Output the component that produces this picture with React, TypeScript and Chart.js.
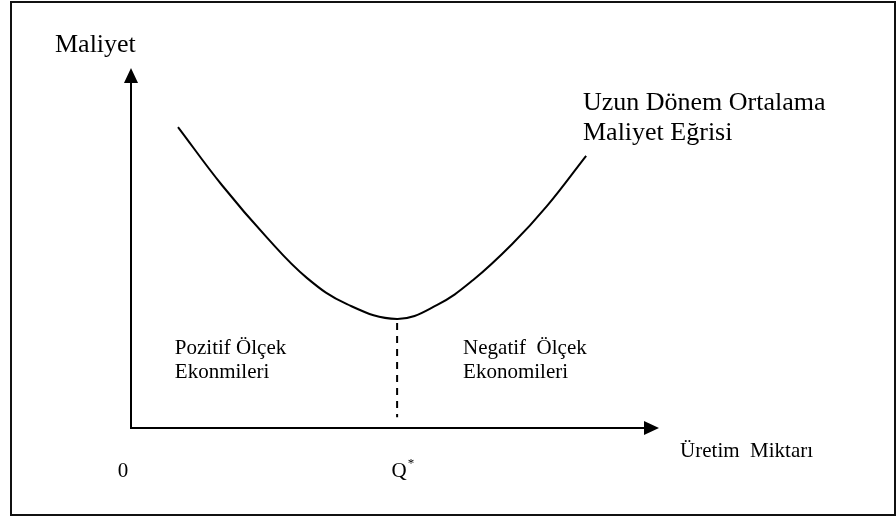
import React, { useEffect, useRef } from "react";
import { Chart, registerables } from "chart.js";

Chart.register(...registerables);

// Long-run average cost curve (x = output, y = cost)
const curveX = [0.89, 1.72, 2.58, 3.33, 4.09, 5.04, 5.8, 6.48, 7.22, 7.88, 8.62];
const curveY = [8.36, 6.75, 5.28, 4.17, 3.44, 3.03, 3.42, 4.11, 5.11, 6.17, 7.56];

// Optimal output Q* and the dashed guide below the minimum
const qStar = 5.04;
const guideY = [2.92, 0.3];

const xMax = 10;
const yMax = 10;

// Text labels (text, anchor in data units, font size)
const labelTexts = [
  "Maliyet",
  "Uzun Dönem Ortalama",
  "Maliyet Eğrisi",
  "Pozitif Ölçek",
  "Ekonmileri",
  "Negatif  Ölçek",
  "Ekonomileri",
  "Üretim  Miktarı",
  "0",
];
const labelX = [-1.44, 8.56, 8.56, 0.83, 0.83, 6.29, 6.29, 10.4, -0.25];
const labelY = [10.44, 8.83, 8.0, 2.06, 1.39, 2.06, 1.39, -0.81, -1.36];
const labelSize = [26, 26, 26, 21, 21, 21, 21, 21, 21];
const qLabel = "Q";
const qSup = "*";
const qLabelY = -1.36;

const FONT = '"Liberation Serif", "Times New Roman", serif';

const diagramPlugin = {
  id: "diagram",
  afterDraw(chart: any) {
    const { ctx, chartArea, scales } = chart;
    const xs = scales.x;
    const ys = scales.y;
    const left = chartArea.left;
    const bottom = chartArea.bottom;
    const top = chartArea.top;
    const right = chartArea.right;
    ctx.save();
    ctx.strokeStyle = "#000";
    ctx.fillStyle = "#000";
    ctx.lineWidth = 2;
    const ah = 15;
    const aw = 7;
    // y axis
    ctx.beginPath();
    ctx.moveTo(left, bottom + 1);
    ctx.lineTo(left, top + ah);
    ctx.stroke();
    ctx.beginPath();
    ctx.moveTo(left, top);
    ctx.lineTo(left - aw, top + ah);
    ctx.lineTo(left + aw, top + ah);
    ctx.closePath();
    ctx.fill();
    // x axis
    ctx.beginPath();
    ctx.moveTo(left - 1, bottom);
    ctx.lineTo(right - ah, bottom);
    ctx.stroke();
    ctx.beginPath();
    ctx.moveTo(right, bottom);
    ctx.lineTo(right - ah, bottom - aw);
    ctx.lineTo(right - ah, bottom + aw);
    ctx.closePath();
    ctx.fill();

    // labels
    ctx.textBaseline = "alphabetic";
    ctx.textAlign = "left";
    labelTexts.forEach((t, i) => {
      ctx.font = `${labelSize[i]}px ${FONT}`;
      ctx.fillText(t, xs.getPixelForValue(labelX[i]), ys.getPixelForValue(labelY[i]));
    });
    // Q*
    ctx.font = `21px ${FONT}`;
    const qx = xs.getPixelForValue(qStar);
    const qy = ys.getPixelForValue(qLabelY);
    const qw = ctx.measureText(qLabel).width;
    ctx.fillText(qLabel, qx - qw / 2 + 2, qy);
    ctx.font = `13px ${FONT}`;
    ctx.fillText(qSup, qx + qw / 2 + 3, qy - 10);
    ctx.restore();
  },
};

export default function App() {
  const canvasRef = useRef<HTMLCanvasElement | null>(null);

  useEffect(() => {
    document.body.style.margin = "0";
    const canvas = canvasRef.current;
    if (!canvas) return;
    const chart = new Chart(canvas, {
      type: "line",
      data: {
        datasets: [
          {
            label: "Uzun Dönem Ortalama Maliyet Eğrisi",
            data: curveX.map((x, i) => ({ x, y: curveY[i] })),
            borderColor: "#000",
            borderWidth: 2,
            pointRadius: 0,
            fill: false,
            tension: 0.4,
          },
          {
            label: "Q*",
            data: guideY.map((y) => ({ x: qStar, y })),
            borderColor: "#000",
            borderWidth: 2,
            borderDash: [7, 6],
            pointRadius: 0,
            fill: false,
          },
        ],
      },
      options: {
        responsive: false,
        animation: false,
        events: [],
        layout: { padding: { left: 131, right: 237, top: 68, bottom: 92 } },
        plugins: {
          legend: { display: false },
          tooltip: { enabled: false },
        },
        scales: {
          x: { type: "linear", min: 0, max: xMax, display: false },
          y: { type: "linear", min: 0, max: yMax, display: false },
        },
      },
      plugins: [diagramPlugin],
    });
    return () => chart.destroy();
  }, []);

  return (
    <div style={{ position: "relative", width: 896, height: 520, background: "#fff", overflow: "hidden" }}>
      <canvas ref={canvasRef} width={896} height={520} style={{ display: "block" }} />
      <div
        style={{
          position: "absolute",
          left: 10,
          top: 1,
          width: 886,
          height: 515,
          boxSizing: "border-box",
          border: "2px solid #111",
          pointerEvents: "none",
        }}
      />
    </div>
  );
}
